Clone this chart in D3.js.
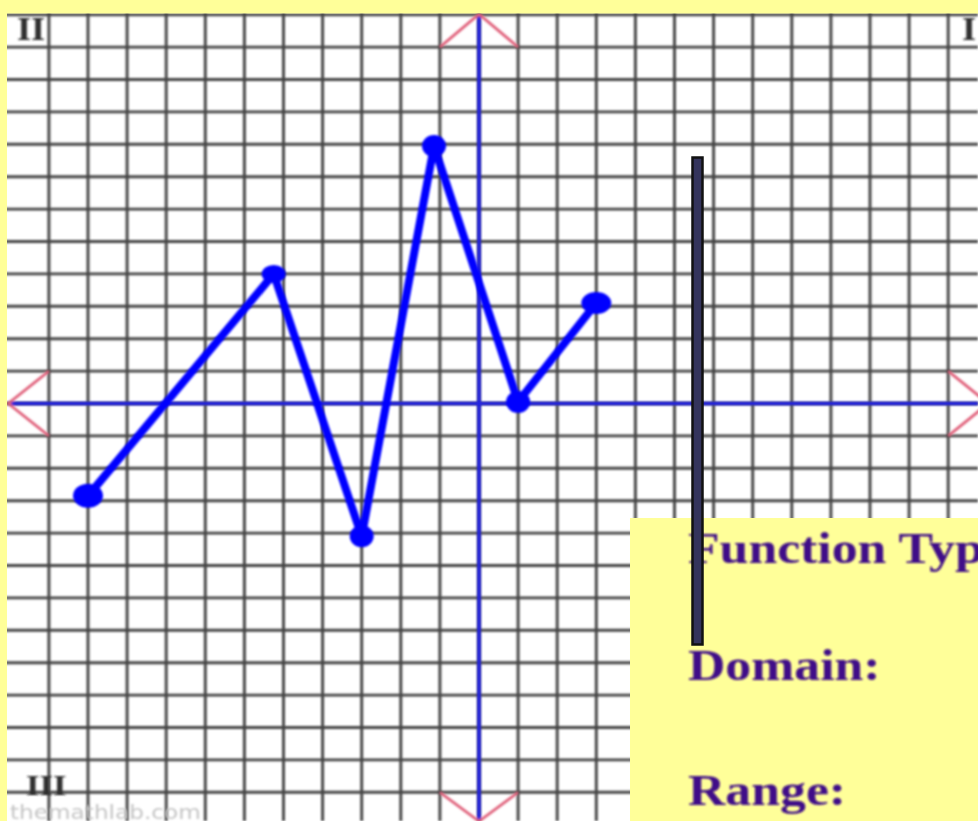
<!DOCTYPE html>
<html>
<head>
<meta charset="utf-8">
<script src="https://cdn.jsdelivr.net/npm/d3@7"></script>
<style>
html,body{margin:0;padding:0;background:#ffff99;overflow:hidden;}
svg{display:block;}
</style>
</head>
<body>
<script>
// ---- data ----
const pointX = [-10, -5.25, -3, -1.15, 1, 3];
const pointY = [-2.85, 4, -4.1, 7.95, 0.05, 3.1];
const pointRx = [15, 12, 12, 12, 12, 15];
const pointRy = [12, 9, 11, 11, 11, 11];
const gridXTicks = [-11,-10,-9,-8,-7,-6,-5,-4,-3,-2,-1,0,1,2,3,4,5,6,7,8,9,10,11,12];
const gridYTicks = [-12,-11,-10,-9,-8,-7,-6,-5,-4,-3,-2,-1,0,1,2,3,4,5,6,7,8,9,10,11,12];
const quadrantLabels = ["II", "I", "III"];
const panelLabels = ["Function Type:", "Domain:", "Range:"];
const watermark = "themathlab.com";

const W = 978, H = 821;
const svg = d3.select("body").append("svg").attr("width", W).attr("height", H);

const x = d3.scaleLinear().domain([0, 1]).range([479, 479 + 39.1]);
const y = d3.scaleLinear().domain([0, 1]).range([403.5, 403.5 - 32.4]);

const defs = svg.append("defs");
defs.append("filter").attr("id", "soft").attr("x", "-5%").attr("y", "-5%").attr("width", "110%").attr("height", "110%")
  .append("feGaussianBlur").attr("stdDeviation", 0.85);
defs.append("clipPath").attr("id", "gridclip")
  .append("rect").attr("x", 7).attr("y", 13.5).attr("width", W - 7).attr("height", H - 13.5);

// background yellow
svg.append("rect").attr("width", W).attr("height", H).attr("fill", "#ffff99");

const plot = svg.append("g").attr("clip-path", "url(#gridclip)");
plot.append("rect").attr("x", 7).attr("y", 13.5).attr("width", W - 7).attr("height", H - 13.5).attr("fill", "#ffffff");

const grid = plot.append("g").attr("filter", "url(#soft)");
grid.selectAll("line.v").data(gridXTicks).join("line").attr("class", "v")
  .attr("x1", d => x(d)).attr("x2", d => x(d)).attr("y1", 0).attr("y2", H)
  .attr("stroke", "#444").attr("stroke-width", 2.9);
grid.selectAll("line.h").data(gridYTicks).join("line").attr("class", "h")
  .attr("x1", 0).attr("x2", W).attr("y1", d => y(d)).attr("y2", d => y(d))
  .attr("stroke", "#444").attr("stroke-width", 2.9);

// quadrant labels
const ql = plot.append("g").attr("filter", "url(#soft)")
  .attr("font-family", "Liberation Serif, serif").attr("font-weight", "bold").attr("fill", "#2e2e2e");
ql.append("text").attr("transform", "translate(17,40) scale(1.1,1)").attr("font-size", 33).text(quadrantLabels[0]);
ql.append("text").attr("transform", "translate(962,40) scale(1.1,1)").attr("font-size", 33).text(quadrantLabels[1]);
ql.append("text").attr("transform", "translate(26,795) scale(1.2,1)").attr("font-size", 29).text(quadrantLabels[2]);

// watermark
plot.append("text").attr("transform", "translate(10,819) scale(1.22,1)").attr("font-family", "DejaVu Sans, sans-serif")
  .attr("font-size", 19).attr("fill", "#c4c4c4").attr("filter", "url(#soft)").text(watermark);

// axes
const axes = plot.append("g").attr("filter", "url(#soft)");
axes.append("line").attr("x1", 8).attr("x2", W).attr("y1", y(0)).attr("y2", y(0))
  .attr("stroke", "#2020e6").attr("stroke-width", 3.6);
axes.append("line").attr("x1", x(0)).attr("x2", x(0)).attr("y1", 15).attr("y2", H)
  .attr("stroke", "#2020e6").attr("stroke-width", 3.6);

// red arrow heads
const arrowColor = "#e0607a";
const arrows = [
  [[x(-1), y(11)], [x(0), y(12) - 0.5], [x(1), y(11)]],
  [[x(-1), y(-12)], [x(0), y(-12) + 29], [x(1), y(-12)]],
  [[x(-11), y(1)], [8.3, y(0)], [x(-11), y(-1)]],
  [[x(12), y(1)], [x(12) + 40, y(0)], [x(12), y(-1)]]
];
axes.selectAll("path.arrow").data(arrows).join("path").attr("class", "arrow")
  .attr("d", d3.line()).attr("fill", "none").attr("stroke", arrowColor).attr("stroke-width", 2.8);

// data line
const pts = pointX.map((v, i) => [x(v), y(pointY[i])]);
const dataG = plot.append("g").attr("filter", "url(#soft)");
dataG.append("path").attr("d", d3.line()(pts)).attr("fill", "none")
  .attr("stroke", "#0000ff").attr("stroke-width", 8).attr("stroke-linejoin", "round").attr("stroke-linecap", "round");
dataG.selectAll("ellipse").data(pts).join("ellipse")
  .attr("cx", d => d[0]).attr("cy", d => d[1])
  .attr("rx", (d, i) => pointRx[i]).attr("ry", (d, i) => pointRy[i]).attr("fill", "#0000ff");

// yellow panel
svg.append("rect").attr("x", 630).attr("y", 518).attr("width", W - 630).attr("height", H - 518).attr("fill", "#ffff99");
const pt = svg.append("g").attr("font-family", "Liberation Serif, Times New Roman, serif").attr("font-weight", "bold")
  .attr("fill", "#3f0a88").attr("font-size", 45).attr("filter", "url(#soft)");
const panelY = [563, 680, 805];
panelLabels.forEach((t, i) => {
  pt.append("text").attr("transform", `translate(688,${panelY[i]}) scale(1.15,1)`).text(t);
});

// vertical bar
svg.append("rect").attr("x", 692.5).attr("y", 157.5).attr("width", 10).attr("height", 487)
  .attr("fill", "#34345c").attr("stroke", "#111").attr("stroke-width", 2.5);
</script>
</body>
</html>
